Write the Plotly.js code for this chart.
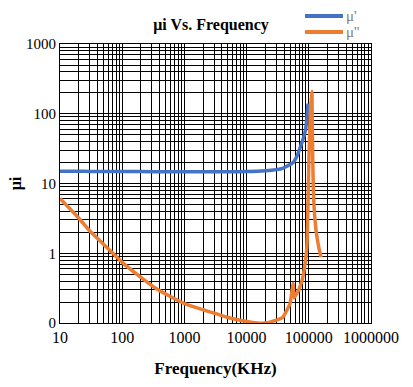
<!DOCTYPE html>
<html><head><meta charset="utf-8">
<script src="https://cdn.plot.ly/plotly-3.0.1.min.js"></script>
<style>body{margin:0;background:#fff}#c{width:413px;height:387px}</style>
</head><body><div id="c"></div>
<script>
const freqReal = [10,20,30,50,100,200,500,1000,2000,5000,10000,20000,30000,38000,45000,56000,65000,72000,80000,88000,93000,97000];
const muReal   = [15,15,14.9,14.9,14.8,14.8,14.7,14.7,14.7,14.7,14.8,15.2,15.8,16.5,17.8,20,25,32,42,57,85,140];
const freqImag = [10,20,30,50,100,200,335,500,1000,2000,3300,5000,10000,15000,20000,30000,38000,44000,50000,54000,56000,58000,65000,72000,80000,87000,93000,97000,101000,106000,112000,114000,116000,120000,131000,145000,157000];
const muImag   = [6.1,3.2,2.1,1.35,0.74,0.45,0.32,0.26,0.19,0.155,0.135,0.12,0.105,0.1,0.1,0.11,0.12,0.15,0.19,0.3,0.37,0.23,0.27,0.33,0.45,0.7,1.2,5,28,100,210,60,20,5.7,2.1,1.2,0.88];
const yTickVals = [0.1,1,10,100,1000];
const yTickText = ["0","1","10","100","1000"];
const xTickVals = [10,100,1000,10000,100000,1000000];
const xTickText = ["10","100","1000","10000","100000","1000000"];
const seriesNames = ["μ'","μ''"];
const seriesColors = ['#4472C4','#ED7D31'];

const serif = "Liberation Serif";
const data = [
 {x:freqReal,y:muReal,mode:'lines',name:seriesNames[0],line:{color:seriesColors[0],width:3.5,shape:'spline',smoothing:0.6}},
 {x:freqImag,y:muImag,mode:'lines',name:seriesNames[1],line:{color:seriesColors[1],width:3.5,shape:'spline',smoothing:0.4}}
];
// manual legend (swatches + labels)
const legY = [15,31];
const shapes = legY.map((yy,i)=>({type:'line',xref:'paper',yref:'paper',x0:(305-60)/311,x1:(343-60)/311,y0:(387-64-yy)/280,y1:(387-64-yy)/280,line:{color:seriesColors[i],width:4}}));
const annotations = legY.map((yy,i)=>({xref:'paper',yref:'paper',x:(344-60)/311,y:(387-64-yy)/280,xanchor:'left',yanchor:'middle',text:seriesNames[i],showarrow:false,font:{family:serif,size:15,color:'#808080'}}));
const layout = {
 width:413,height:387,
 margin:{l:60,r:42,t:44,b:64},
 paper_bgcolor:'#fff',plot_bgcolor:'#fff',
 showlegend:false,
 shapes:shapes, annotations:annotations,
 title:{text:'<b>μi Vs. Frequency</b>',font:{family:serif,size:16,color:'#000'},xref:'container',x:0.511,xanchor:'center',yref:'container',y:0.938,yanchor:'middle'},
 xaxis:{type:'log',range:[1,6],tickvals:xTickVals,ticktext:xTickText,ticks:'',
   showgrid:true,gridcolor:'#000',gridwidth:1,
   minor:{dtick:'D1',showgrid:true,gridcolor:'#000',gridwidth:1,ticks:''},
   showline:true,linecolor:'#000',linewidth:1,mirror:true,zeroline:false,
   tickfont:{family:serif,size:16,color:'#000'},
   title:{text:'<b>Frequency(KHz)</b>',font:{family:serif,size:17,color:'#000'},standoff:16}},
 yaxis:{type:'log',range:[-1,3],tickvals:yTickVals,ticktext:yTickText,ticks:'',
   showgrid:true,gridcolor:'#000',gridwidth:1,
   minor:{dtick:'D1',showgrid:true,gridcolor:'#000',gridwidth:1,ticks:''},
   showline:true,linecolor:'#000',linewidth:1,mirror:true,zeroline:false,
   tickfont:{family:serif,size:15,color:'#000'},
   title:{text:'<b>μi</b>',font:{family:serif,size:16,color:'#000'},standoff:0}}
};
Plotly.newPlot('c',data,layout,{displayModeBar:false,staticPlot:true});
</script></body></html>
